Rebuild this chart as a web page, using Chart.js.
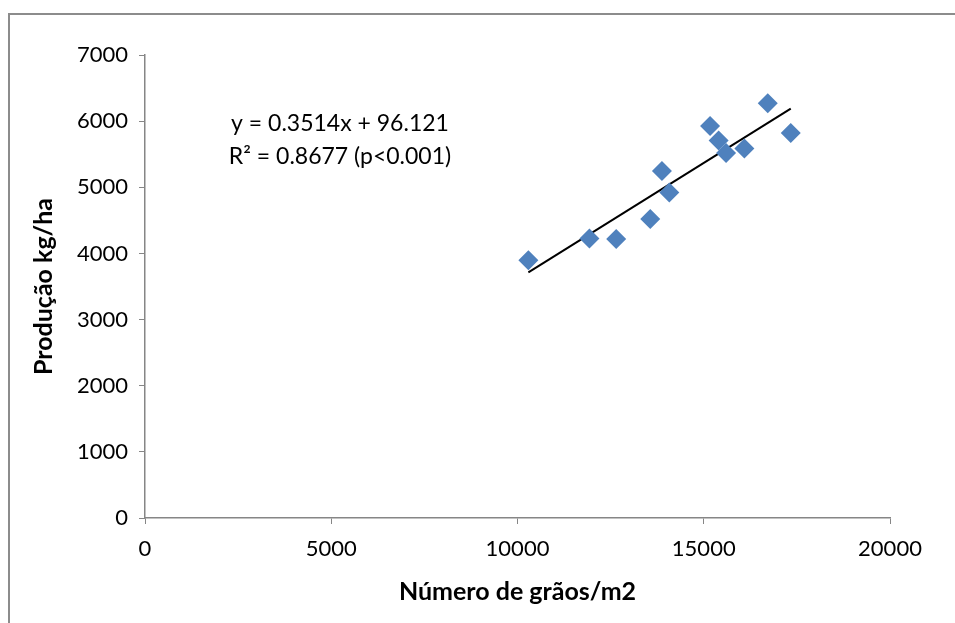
<!DOCTYPE html>
<html>
<head>
<meta charset="utf-8">
<script src="https://cdn.jsdelivr.net/npm/chart.js@4"></script>
<style>
  html, body { margin: 0; padding: 0; background: #fff; }
  #wrap { width: 955px; height: 623px; position: relative; }
</style>
</head>
<body>
<div id="wrap"><canvas id="myChart" width="955" height="623"></canvas></div>
<script>
// grain number per m2 vs yield
const graos = [10292, 11932, 12650, 13564, 13878, 14075, 15169, 15400, 15599, 16091, 16718, 17336];
const producao = [3898, 4226, 4220, 4522, 5247, 4921, 5927, 5707, 5519, 5586, 6270, 5822];
const slope = 0.3514;
const intercept = 96.121;
const eqLines = ["y = 0.3514x + 96.121", "R² = 0.8677 (p<0.001)"];

const fontFam = "Lato, 'Liberation Sans', sans-serif";

const xMin = Math.min(...graos);
const xMax = Math.max(...graos);
const trend = [
    { x: xMin, y: slope * xMin + intercept },
    { x: xMax, y: slope * xMax + intercept }
];

const points = graos.map((g, i) => ({ x: g, y: producao[i] }));

// frame + equation text
const extras = {
    id: "extras",
    beforeDraw(chart) {
        const c = chart.ctx;
        c.save();
        c.fillStyle = "#fff";
        c.fillRect(0, 0, chart.width, chart.height);
        c.strokeStyle = "#8c8c8c";
        c.lineWidth = 2;
        c.beginPath();
        c.moveTo(9, chart.height);
        c.lineTo(9, 14);
        c.lineTo(chart.width, 14);
        c.stroke();
        c.restore();
    },
    afterDraw(chart) {
        const c = chart.ctx;
        c.save();
        c.fillStyle = "#000";
        c.font = "23px " + fontFam;
        c.textAlign = "center";
        c.textBaseline = "middle";
        c.fillText(eqLines[0], 340, 124);
        c.fillText(eqLines[1], 340, 157);
        c.restore();
    }
};

const plain = (v) => String(v);

const ctx = document.getElementById("myChart");
new Chart(ctx, {
    type: "scatter",
    data: {
        datasets: [
            {
                label: "Produção",
                data: points,
                pointStyle: "rectRot",
                pointRadius: 10,
                pointHoverRadius: 10,
                backgroundColor: "#4f81bd",
                borderColor: "#4f81bd",
                borderWidth: 0
            },
            {
                label: "Tendência",
                type: "line",
                data: trend,
                borderColor: "#000",
                borderWidth: 2,
                pointRadius: 0,
                fill: false
            }
        ]
    },
    options: {
        responsive: false,
        animation: false,
        layout: { padding: { top: 55, right: 65, left: 0, bottom: 0 } },
        plugins: {
            legend: { display: false },
            tooltip: { enabled: false }
        },
        scales: {
            x: {
                type: "linear",
                min: 0,
                max: 20000,
                ticks: { stepSize: 5000, color: "#000", font: { family: fontFam, size: 22 }, padding: 12, maxRotation: 0, callback: plain },
                grid: { drawOnChartArea: false, drawTicks: true, tickLength: 6, color: "#868686" },
                border: { color: "#868686", width: 1.5 },
                title: { display: true, text: "Número de grãos/m2", color: "#000", font: { family: fontFam, size: 25, weight: "bold" }, padding: { top: 0, bottom: 16 } },
                afterFit(scale) { scale.height = 105; }
            },
            y: {
                min: 0,
                max: 7000,
                ticks: { stepSize: 1000, color: "#000", font: { family: fontFam, size: 22 }, padding: 11, callback: plain },
                grid: { drawOnChartArea: false, drawTicks: true, tickLength: 6, color: "#868686" },
                border: { color: "#868686", width: 1.5 },
                title: { display: true, text: "Produção kg/ha", color: "#000", font: { family: fontFam, size: 25, weight: "bold" }, padding: { top: 29, bottom: 0 } },
                afterFit(scale) { scale.width = 145; }
            }
        }
    },
    plugins: [extras]
});
</script>
</body>
</html>
